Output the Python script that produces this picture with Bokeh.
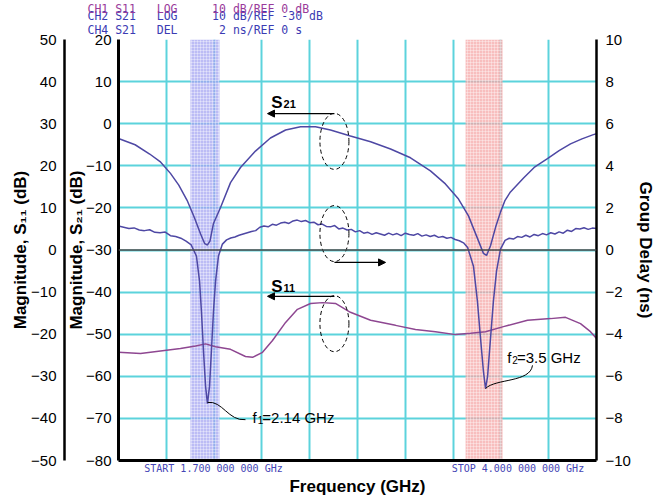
from bokeh.plotting import figure
from bokeh.models import Range1d, LinearAxis, FixedTicker, Span, Label, Arrow, NormalHead, Title
from bokeh.embed import file_html
from bokeh.resources import INLINE

# ---------------- data ----------------
freq_start, freq_stop, freq_div = 1.7, 4.0, 0.23
freq_grid = [round(freq_start + freq_div * k, 3) for k in range(11)]
s21_ticks = list(range(-80, 21, 10))
s11_ticks = list(range(-50, 51, 10))
delay_ticks = list(range(-10, 11, 2))

s21_freq = [1.700, 1.780, 1.850, 1.900, 1.950, 1.990, 2.030, 2.065, 2.095, 2.115, 2.128, 2.140,
            2.157, 2.191, 2.239, 2.287, 2.359, 2.431, 2.504, 2.576, 2.648, 2.720, 2.816, 2.913,
            3.009, 3.105, 3.201, 3.273, 3.336, 3.384, 3.423, 3.456, 3.471, 3.490, 3.515, 3.538,
            3.560, 3.586, 3.649, 3.700, 3.764, 3.820, 3.875, 3.930, 3.985, 4.000]
s21_db = [-3.5, -5.0, -7.2, -9.0, -11.8, -14.6, -18.2, -22.3, -26.2, -28.5, -28.8, -27.9,
          -23.7, -19.9, -14.0, -10.4, -6.5, -3.4, -1.5, -0.7, -0.7, -1.5, -2.9, -4.3,
          -6.0, -8.1, -11.2, -14.3, -17.9, -21.9, -26.7, -30.8, -31.3, -29.0, -24.5, -21.0,
          -18.2, -16.2, -12.9, -10.4, -8.3, -6.4, -4.8, -3.6, -2.6, -2.4]

s11_freq = [1.700, 1.806, 1.902, 1.998, 2.071, 2.119, 2.167, 2.239, 2.311, 2.345, 2.393, 2.441,
            2.504, 2.561, 2.624, 2.682, 2.744, 2.816, 2.913, 3.033, 3.129, 3.225, 3.322, 3.394,
            3.466, 3.552, 3.668, 3.779, 3.851, 3.923, 3.971, 4.000]
s11_db = [-24.3, -24.6, -24.0, -23.4, -22.8, -22.3, -23.0, -23.6, -25.3, -25.5, -24.3, -21.5,
          -17.2, -14.1, -12.7, -12.5, -12.7, -14.8, -16.7, -17.9, -18.9, -19.4, -20.1, -19.8,
          -19.4, -18.2, -16.7, -16.3, -16.0, -17.5, -19.4, -21.0]

gd_freq = [1.700, 1.725, 1.750, 1.775, 1.800, 1.825, 1.850, 1.875, 1.900, 1.925, 1.950, 1.975,
           2.000, 2.025, 2.050, 2.075, 2.090, 2.099, 2.109, 2.119, 2.128, 2.138, 2.147, 2.157,
           2.167, 2.181, 2.200, 2.220, 2.240, 2.260, 2.280, 2.300, 2.320, 2.340, 2.360, 2.380,
           2.400, 2.420, 2.440, 2.460, 2.480, 2.500, 2.520, 2.540, 2.560, 2.580, 2.600, 2.620,
           2.640, 2.660, 2.680, 2.700, 2.720, 2.740, 2.760, 2.780, 2.800, 2.820, 2.840, 2.860,
           2.880, 2.900, 2.920, 2.940, 2.960, 2.980, 3.000, 3.020, 3.040, 3.060, 3.080, 3.100,
           3.120, 3.140, 3.160, 3.180, 3.200, 3.220, 3.240, 3.260, 3.280, 3.300, 3.320, 3.340,
           3.360, 3.380, 3.408, 3.427, 3.442, 3.456, 3.466, 3.476, 3.490, 3.504, 3.519, 3.538,
           3.560, 3.580, 3.600, 3.620, 3.640, 3.660, 3.680, 3.700, 3.720, 3.740, 3.760, 3.780,
           3.800, 3.820, 3.840, 3.860, 3.880, 3.900, 3.920, 3.940, 3.960, 3.980, 4.000]
gd_ns = [1.14, 1.08, 1.02, 1.05, 0.95, 0.92, 0.96, 0.84, 0.82, 0.85, 0.68, 0.64,
         0.56, 0.42, 0.24, -0.29, -1.48, -2.91, -4.81, -6.48, -7.30, -6.48, -4.81, -2.91,
         -1.48, -0.29, 0.28, 0.48, 0.57, 0.62, 0.70, 0.76, 0.82, 0.88, 0.92, 1.08,
         1.14, 1.10, 1.22, 1.18, 1.28, 1.32, 1.26, 1.38, 1.42, 1.35, 1.40, 1.30,
         1.32, 1.20, 1.23, 1.12, 1.10, 1.16, 1.00, 1.04, 0.95, 0.98, 0.86, 0.92,
         0.80, 0.84, 0.74, 0.82, 0.76, 0.70, 0.80, 0.72, 0.78, 0.68, 0.80, 0.74,
         0.70, 0.78, 0.66, 0.72, 0.64, 0.70, 0.60, 0.64, 0.56, 0.60, 0.50, 0.44,
         0.34, 0.12, -0.77, -2.43, -4.20, -5.77, -6.58, -6.00, -4.20, -2.43, -1.00, 0.04,
         0.46, 0.56, 0.52, 0.64, 0.60, 0.70, 0.62, 0.74, 0.68, 0.78, 0.72, 0.82,
         0.76, 0.86, 0.80, 0.94, 0.88, 1.02, 1.00, 1.06, 0.98, 1.04, 1.02]

band_left = [2.046, 3.370]
band_right = [2.186, 3.548]
band_color = ["#a6a6f2", "#f6a8a8"]

# analyzer annotation texts
start_stop_pos = [2.157, 3.622]
start_stop_text = ["START 1.700 000 000 GHz", "STOP 4.000 000 000 GHz"]
header_rows = [
    [(0, "CH1"), (4, "S11"), (10, "LOG"), (18, "10"), (21, "dB/REF"), (28, "0"), (30, "dB")],
    [(0, "CH2"), (4, "S21"), (10, "LOG"), (18, "10"), (21, "dB/REF"), (28, "-30"), (32, "dB")],
    [(0, "CH4"), (4, "S21"), (10, "DEL"), (19, "2"), (21, "ns/REF"), (28, "0"), (30, "s")],
]

assert len(s21_freq) == len(s21_db)
assert len(s11_freq) == len(s11_db)
assert len(gd_freq) == len(gd_ns)

# ---------------- style ----------------
SANS = "Liberation Sans"
MONO = "DejaVu Sans Mono"
GRID = "#5cd3dc"
BLUE = "#4e48a4"
PURPLE = "#8e4791"
HDR_BLUE = "#3b3bb3"
HDR_PURPLE = "#9a3a9a"

FRAME_W, FRAME_H = 478, 421
p = figure(frame_width=FRAME_W, frame_height=FRAME_H,
           x_range=Range1d(freq_start, freq_stop), y_range=Range1d(-80, 20),
           output_backend="svg", toolbar_location=None,
           min_border_left=118, min_border_right=66, min_border_top=39,
           min_border_bottom=36)
p.outline_line_color = None
p.background_fill_color = "white"
p.border_fill_color = "white"
p.extra_y_ranges = {"s11": Range1d(-50, 50), "delay": Range1d(-10, 10)}

p.xgrid.ticker = FixedTicker(ticks=freq_grid)
p.ygrid.ticker = FixedTicker(ticks=s21_ticks)
for g in (p.xgrid, p.ygrid):
    g.grid_line_color = GRID
    g.grid_line_width = 2
    g.grid_line_alpha = 1.0

# analyzer header (three rows of monospaced read-outs above the frame)
def header_line(fields, ncols=34):
    cells = ["\u00a0"] * ncols
    for c, t in fields:
        for i, ch in enumerate(t):
            cells[c + i] = ch
    return "".join(cells)

row_colors = [HDR_PURPLE, HDR_BLUE, HDR_BLUE]
row_standoff = [-7, -11, 6]
for fields, col, so in reversed(list(zip(header_rows, row_colors, row_standoff))):
    p.add_layout(Title(text=header_line(fields), text_font=MONO, text_font_size="11.5px",
                       text_font_style="normal", text_color=col, align="left",
                       offset=-31, standoff=so), "above")


def style_axis(ax, label, lw):
    ax.axis_label = label
    ax.axis_label_text_font = SANS
    ax.axis_label_text_font_size = "17px"
    ax.axis_label_text_font_style = "bold"
    ax.axis_label_text_color = "black"
    ax.major_label_text_font = SANS
    ax.major_label_text_font_size = "15px"
    ax.major_label_text_color = "black"
    ax.major_tick_out = 0
    ax.major_tick_in = 0
    ax.minor_tick_out = 0
    ax.minor_tick_in = 0
    ax.axis_line_color = "black"
    ax.axis_line_width = lw


# inner left axis: S21
yax = p.yaxis[0]
yax.ticker = FixedTicker(ticks=s21_ticks)
style_axis(yax, "Magnitude, S\u2082\u2081 (dB)", 3)
yax.major_label_standoff = 7
yax.axis_label_standoff = -3

# outer left axis: S11
ax11 = LinearAxis(y_range_name="s11", ticker=FixedTicker(ticks=s11_ticks))
style_axis(ax11, "Magnitude, S\u2081\u2081 (dB)", 2.5)
ax11.major_label_standoff = 8
ax11.axis_label_standoff = -2
p.add_layout(ax11, "left")

# right axis: group delay
axd = LinearAxis(y_range_name="delay", ticker=FixedTicker(ticks=delay_ticks))
style_axis(axd, "Group Delay (ns)", 2.5)
axd.major_label_standoff = 9
axd.axis_label_standoff = 2
p.add_layout(axd, "right")

# bottom axis: analyzer start / stop read-outs as its labels
xax = p.xaxis[0]
xax.ticker = FixedTicker(ticks=start_stop_pos)
style_axis(xax, "Frequency (GHz)", 3)
xax.major_label_overrides = {k: v for k, v in zip(start_stop_pos, start_stop_text)}
xax.major_label_text_font = MONO
xax.major_label_text_font_size = "10px"
xax.major_label_text_color = "#4545b5"
xax.major_label_standoff = 2
xax.axis_label_standoff = 0

# marker bands
p.quad(left=band_left, right=band_right, bottom=-80, top=20,
       fill_color=band_color, fill_alpha=0.75, line_color=None,
       hatch_pattern="+", hatch_color="white", hatch_alpha=0.35, hatch_scale=3, hatch_weight=1)

# reference line (delay 0 / S21 -30 dB)
p.add_layout(Span(location=-30, dimension="width", line_color="#4a4a4a", line_width=1.5))

# traces
p.line(s11_freq, s11_db, y_range_name="s11", line_color=PURPLE, line_width=1.5)
p.line(gd_freq, gd_ns, y_range_name="delay", line_color=BLUE, line_width=1.5)
p.line(s21_freq, s21_db, line_color=BLUE, line_width=1.5)

# dashed ellipses
ell_x = 2.739
for yv, rng in ((-4.2, "default"), (0.78, "delay"), (-17.5, "s11")):
    p.ellipse(x=[ell_x], y=[yv], width=29, height=56, width_units="screen", height_units="screen",
              fill_color=None, line_color="black", line_dash="4 3", line_width=1, y_range_name=rng)

# arrows
head = dict(size=7, fill_color="black", line_color="black")
p.add_layout(Arrow(end=NormalHead(**head), x_start=ell_x, y_start=2.4, x_end=2.417, y_end=2.4,
                   line_width=1.3))
p.add_layout(Arrow(end=NormalHead(**head), x_start=ell_x, y_start=-11.0, x_end=2.417, y_end=-11.0,
                   line_width=1.3, y_range_name="s11"))
p.add_layout(Arrow(end=NormalHead(**head), x_start=ell_x, y_start=-0.59, x_end=2.985, y_end=-0.59,
                   line_width=1.3, y_range_name="delay"))


def lab(x, y, text, size, bold=False, rng="default"):
    p.add_layout(Label(x=x, y=y, text=text, text_font=SANS, text_font_size=size,
                       text_font_style="bold" if bold else "normal", text_color="black",
                       text_baseline="alphabetic", y_range_name=rng))


# trace labels
lab(2.435, 5.0, "S", "17px", True)
lab(2.494, 4.6, "21", "11px", True)
lab(2.435, -8.6, "S", "17px", True, rng="s11")
lab(2.494, -9.0, "11", "11px", True, rng="s11")

# marker frequency labels with leader curves
lab(2.345, -69.8, "f", "15px")
lab(2.370, -70.4, "1", "10px")
lab(2.392, -69.8, "=2.14 GHz", "15px")
lab(3.570, -55.5, "f", "15px")
lab(3.595, -56.1, "2", "10px")
lab(3.617, -55.5, "=3.5 GHz", "15px")

p.bezier(x0=[2.128, 3.466], y0=[-66.2, -62.9], x1=[2.311, 3.692], y1=[-70.3, -57.4],
         cx0=[2.200, 3.514], cy0=[-65.7, -60.5], cx1=[2.229, 3.682], cy1=[-70.7, -61.5],
         line_color="black", line_width=1)

open("out.html", "w").write(file_html(p, INLINE))
